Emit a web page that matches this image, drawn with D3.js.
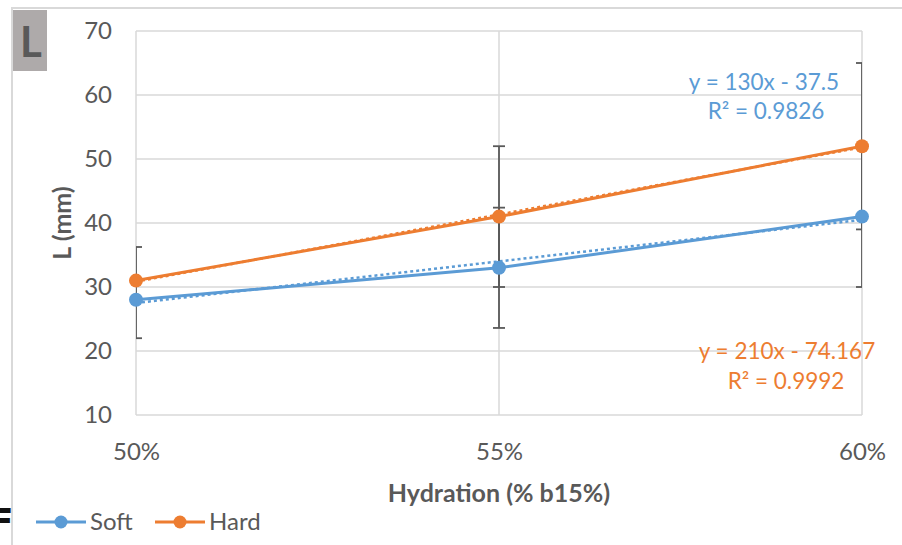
<!DOCTYPE html>
<html>
<head>
<meta charset="utf-8">
<script src="https://cdn.jsdelivr.net/npm/d3@7"></script>
<style>
  html, body { margin: 0; padding: 0; background: #fff; }
  svg { display: block; font-family: Lato, "Open Sans", sans-serif; }
</style>
</head>
<body>
<svg id="chart" width="902" height="545"></svg>
<script>
// Hydration levels (fraction) and tick labels
const hydration = [0.50, 0.55, 0.60];
const hydrationLabels = ["50%", "55%", "60%"];
const yTicks = [10, 20, 30, 40, 50, 60, 70];

// Measured L (mm) for each dough
const softL = [28, 33, 41];
const hardL = [31, 41, 52];

// Error bar extents (low / high) per point; null = no bar
const softLow  = [null, 23.6, 30];
const softHigh = [null, 42.4, 52];
const hardLow  = [22, 30, 39];
const hardHigh = [36.25, 52, 65];

// Linear trendlines: slope, intercept, R²
const softFit = [130, -37.5, 0.9826];
const hardFit = [210, -74.167, 0.9992];

const BLUE = "#5B9BD5", ORANGE = "#ED7D31", GRID = "#d9d9d9", TEXT = "#595959";

const svg = d3.select("#chart");

// outer chart frame
svg.append("rect").attr("x", 12).attr("y", 8).attr("width", 900).attr("height", 560)
  .attr("fill", "#fff").attr("stroke", GRID).attr("stroke-width", 2);

// fragment of neighbouring panel label
svg.append("text").attr("x", -11).attr("y", 534)
  .attr("font-family", "DejaVu Sans").attr("font-weight", "bold")
  .attr("font-size", 36).attr("fill", "#111").text("F");

const x = d3.scaleLinear().domain([0.5, 0.6]).range([136, 862]);
const y = d3.scaleLinear().domain([10, 70]).range([415, 31]);

// panel tag
svg.append("rect").attr("x", 13).attr("y", 10).attr("width", 34).attr("height", 61).attr("fill", "#AEAAAA");
svg.append("text").attr("x", 31).attr("y", 57).attr("text-anchor", "middle")
  .attr("font-weight", "bold").attr("font-size", 42).attr("fill", TEXT).text("L");

// gridlines
const grid = svg.append("g");
grid.selectAll("line.h").data(yTicks).join("line")
  .attr("x1", x(0.5)).attr("x2", x(0.6)).attr("y1", d => y(d)).attr("y2", d => y(d))
  .attr("stroke", GRID).attr("stroke-width", 1.5);
grid.selectAll("line.v").data(hydration).join("line")
  .attr("y1", y(70)).attr("y2", y(10)).attr("x1", d => x(d)).attr("x2", d => x(d))
  .attr("stroke", GRID).attr("stroke-width", 1.5);

// axes (text only)
const yAxis = svg.append("g").attr("transform", `translate(${x(0.5) - 24},0)`)
  .call(d3.axisLeft(y).tickValues(yTicks).tickSize(0).tickPadding(0));
yAxis.select(".domain").remove();
yAxis.selectAll("text").attr("font-size", 24).attr("fill", TEXT).attr("font-family", "Lato");

const xAxis = svg.append("g").attr("transform", `translate(0,${y(10) + 26})`)
  .call(d3.axisBottom(x).tickValues(hydration).tickFormat((d, i) => hydrationLabels[i]).tickSize(0).tickPadding(0));
xAxis.select(".domain").remove();
xAxis.selectAll("text").attr("font-size", 24).attr("fill", TEXT).attr("font-family", "Lato").attr("dy", "0.8em");

// axis titles
svg.append("text").attr("transform", `translate(71,${(y(70) + y(10)) / 2}) rotate(-90)`)
  .attr("text-anchor", "middle").attr("font-weight", "bold").attr("font-size", 25).attr("fill", TEXT).text("L (mm)");
svg.append("text").attr("x", (x(0.5) + x(0.6)) / 2).attr("y", 502)
  .attr("text-anchor", "middle").attr("font-weight", "bold").attr("font-size", 25).attr("fill", TEXT).text("Hydration (% b15%)");

// clip for marks inside the plot area
svg.append("clipPath").attr("id", "plotClip").append("rect")
  .attr("x", x(0.5)).attr("y", y(70)).attr("width", x(0.6) - x(0.5)).attr("height", y(10) - y(70));

const plot = svg.append("g").attr("clip-path", "url(#plotClip)");
const series = [
  { name: "Soft", values: softL, low: softLow, high: softHigh, fit: softFit, color: BLUE },
  { name: "Hard", values: hardL, low: hardLow, high: hardHigh, fit: hardFit, color: ORANGE }
];

const line = d3.line().x((d, i) => x(hydration[i])).y(d => y(d));

// series lines
series.forEach(s => {
  plot.append("path").attr("d", line(s.values)).attr("fill", "none")
    .attr("stroke", s.color).attr("stroke-width", 3).attr("stroke-linejoin", "round");
});

// trendlines
series.forEach(s => {
  const tx = [0.5, 0.6];
  plot.append("line")
    .attr("x1", x(tx[0])).attr("y1", y(s.fit[0] * tx[0] + s.fit[1]))
    .attr("x2", x(tx[1])).attr("y2", y(s.fit[0] * tx[1] + s.fit[1]))
    .attr("stroke", s.color).attr("stroke-width", 2.5).attr("stroke-dasharray", "3,3");
});

// error bars
series.forEach(s => {
  hydration.forEach((h, i) => {
    if (s.low[i] == null) return;
    const cx = x(h), g = plot.append("g").attr("stroke", TEXT).attr("stroke-width", 1.8);
    g.append("line").attr("x1", cx).attr("x2", cx).attr("y1", y(s.low[i])).attr("y2", y(s.high[i]));
    [s.low[i], s.high[i]].forEach(v => {
      g.append("line").attr("x1", cx - 6).attr("x2", cx + 6).attr("y1", y(v)).attr("y2", y(v));
    });
  });
});

// markers
series.forEach(s => {
  svg.append("g").selectAll("circle").data(s.values).join("circle")
    .attr("cx", (d, i) => x(hydration[i])).attr("cy", d => y(d)).attr("r", 7)
    .attr("fill", s.color);
});

// trendline equations
const fmtEq = f => `y = ${f[0]}x - ${Math.abs(f[1])}`;
svg.append("text").attr("x", 764).attr("y", 90).attr("text-anchor", "middle")
  .attr("font-size", 22.5).attr("fill", BLUE).text(fmtEq(softFit));
svg.append("text").attr("x", 766).attr("y", 119).attr("text-anchor", "middle")
  .attr("font-size", 22.5).attr("fill", BLUE).text(`R² = ${softFit[2]}`);
svg.append("text").attr("x", 787).attr("y", 359).attr("text-anchor", "middle")
  .attr("font-size", 22.5).attr("fill", ORANGE).text(fmtEq(hardFit));
svg.append("text").attr("x", 786).attr("y", 389).attr("text-anchor", "middle")
  .attr("font-size", 22.5).attr("fill", ORANGE).text(`R² = ${hardFit[2]}`);

// legend
const legend = svg.append("g").attr("transform", "translate(36,522)");
const legendX = [0, 119];
series.forEach((s, i) => {
  const g = legend.append("g").attr("transform", `translate(${legendX[i]},0)`);
  g.append("line").attr("x1", 0).attr("x2", 50).attr("stroke", s.color).attr("stroke-width", 3);
  g.append("circle").attr("cx", 25).attr("r", 6.5).attr("fill", s.color);
  g.append("text").attr("x", 54).attr("dy", "0.35em").attr("font-size", 24).attr("fill", TEXT).text(s.name);
});
</script>
</body>
</html>
